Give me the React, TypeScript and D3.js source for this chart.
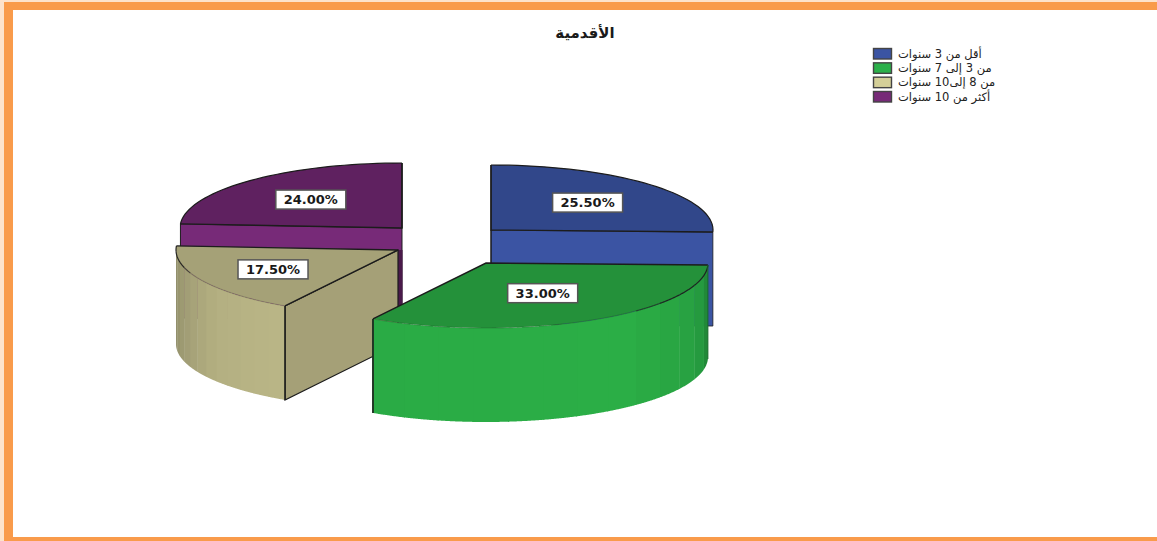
import React from "react";
import * as d3 from "d3";

const categories = ["أقل من 3 سنوات", "من 3 إلى 7 سنوات", "من 8 إلى10 سنوات", "أكثر من 10 سنوات"];
const shares = [25.5, 33.0, 17.5, 24.0];
const title = "الأقدمية";

const WIDTH = 1157;
const HEIGHT = 541;

// Exploded-pie layout: each wedge has its own apex; all share the ellipse and extrusion.
const apexX = [491, 486, 398, 402];
const apexY = [230, 263, 250, 228];
const RX = 222;
const RY = 65;
const DEPTH = 94;
const labelFraction = [0.606, 0.53, 0.637, 0.6];

const topFill = ["#31478a", "#24913a", "#a5a177", "#5f2160"];
const cutFill = ["#3b54a3", "#24913a", "#a5a077", "#772a78"];
const swatchFill = ["#3b54a3", "#2bb04a", "#d4cf98", "#772a78"];
const INK = "#1c1c1c";

// Back-to-front painting order (purple, blue, tan, green).
const paintOrder = [3, 0, 2, 1];

const wedges = d3.pie<number>().sort(null)(shares);

const rimX = (i: number, a: number) => apexX[i] + RX * Math.sin(a);
const rimY = (i: number, a: number) => apexY[i] - RY * Math.cos(a);
const toPath = d3.line<[number, number]>();

function sampleArc(i: number, a0: number, a1: number): [number, number][] {
  return d3.range(0, 41).map((k) => {
    const a = a0 + ((a1 - a0) * k) / 40;
    return [rimX(i, a), rimY(i, a)] as [number, number];
  });
}

function band(i: number, a0: number, a1: number) {
  const upper = sampleArc(i, a0, a1);
  const lower = upper.map(([x, y]) => [x, y + DEPTH] as [number, number]).reverse();
  return toPath([...upper, ...lower]) + "Z";
}

// Stepped shading along the curved walls of the two front wedges.
const greenShade = d3
  .scaleLinear<string>()
  .domain([wedges[1].startAngle, 1.9, 2.5, wedges[1].endAngle])
  .range(["#1f8035", "#27a041", "#2bae46", "#2aab45"]);
const tanShade = d3
  .scaleLinear<string>()
  .domain([wedges[2].startAngle, 4.1, wedges[2].endAngle])
  .range(["#bab686", "#b3af81", "#8c8967"]);
const edgeFade = d3.scaleLinear().domain([0, 0.28, 0.42, 1]).range([0.95, 0.9, 0.18, 0.18]).clamp(true);

const legendRow = d3.scaleLinear().domain([0, 3]).range([48, 91]);

function Wedge({ i }: { i: number }) {
  const { startAngle: a0, endAngle: a1 } = wedges[i];
  const cx = apexX[i];
  const cy = apexY[i];
  const startPt: [number, number] = [rimX(i, a0), rimY(i, a0)];
  const endPt: [number, number] = [rimX(i, a1), rimY(i, a1)];
  const top = toPath([[cx, cy], ...sampleArc(i, a0, a1)]) + "Z";
  const curved = i === 1 || i === 2;
  const shade = i === 1 ? greenShade : tanShade;
  const steps = d3.range(0, 13).map((k) => a0 + ((a1 - a0) * k) / 13);
  const stepSize = (a1 - a0) / 13;

  return (
    <g>
      {i === 0 && (
        <path
          d={toPath([[cx, cy], endPt, [endPt[0], endPt[1] + DEPTH], [cx, cy + DEPTH]]) + "Z"}
          fill={cutFill[0]}
          stroke={INK}
          strokeWidth={0.8}
        />
      )}
      {i === 3 && (
        <>
          <path
            d={toPath([[cx, cy], startPt, [startPt[0], startPt[1] + DEPTH], [cx, cy + DEPTH]]) + "Z"}
            fill={cutFill[3]}
            stroke={INK}
            strokeWidth={1}
          />
          <line
            x1={cx - 2}
            x2={cx - 2}
            y1={apexY[2]}
            y2={cy + DEPTH}
            stroke="#4a1a4b"
            strokeWidth={5}
          />
        </>
      )}
      {i === 2 && (
        <path
          d={toPath([[cx, cy], startPt, [startPt[0], startPt[1] + DEPTH], [cx, cy + DEPTH]]) + "Z"}
          fill={cutFill[2]}
          stroke={INK}
          strokeWidth={1.2}
        />
      )}
      {curved &&
        steps.map((a) => (
          <path
            key={a}
            d={band(i, a, a + stepSize + 0.004)}
            fill={shade(a + stepSize / 2)}
          />
        ))}
      <path d={top} fill={topFill[i]} />
      {/* rim drawn piecewise so the front edge can fade out along the curve */}
      {curved ? (
        steps.map((a, k) => {
          const t = i === 1 ? k / 12 : 1 - k / 12;
          return (
            <path
              key={a}
              d={toPath(sampleArc(i, a, a + stepSize)) ?? ""}
              fill="none"
              stroke={INK}
              strokeOpacity={edgeFade(t)}
              strokeWidth={1.2}
            />
          );
        })
      ) : (
        <path d={toPath(sampleArc(i, a0, a1)) ?? ""} fill="none" stroke={INK} strokeWidth={1.2} />
      )}
      <path
        d={toPath([startPt, [cx, cy], endPt]) ?? ""}
        fill="none"
        stroke={INK}
        strokeWidth={1.4}
      />
      {i === 1 && (
        <line x1={startPt[0] + 0} x2={startPt[0]} y1={startPt[1]} y2={startPt[1] + DEPTH} stroke="#176a2a" strokeWidth={1} />
      )}
      {i === 1 && (
        <line x1={endPt[0]} x2={endPt[0]} y1={endPt[1]} y2={endPt[1] + DEPTH} stroke={INK} strokeWidth={1.6} />
      )}
      {i === 2 && (
        <line x1={startPt[0]} x2={startPt[0]} y1={startPt[1]} y2={startPt[1] + DEPTH} stroke={INK} strokeWidth={1.6} />
      )}
      {i === 3 && <line x1={cx} x2={cx} y1={rimY(i, a1)} y2={cy} stroke={INK} strokeWidth={1.4} />}
      {i === 0 && <line x1={cx} x2={cx} y1={rimY(i, a0)} y2={cy + DEPTH} stroke={INK} strokeWidth={1.2} />}
    </g>
  );
}

function ValueLabel({ i }: { i: number }) {
  const mid = (wedges[i].startAngle + wedges[i].endAngle) / 2;
  const x = apexX[i] + labelFraction[i] * RX * Math.sin(mid);
  const y = apexY[i] - labelFraction[i] * RY * Math.cos(mid);
  return (
    <g transform={`translate(${x},${y})`}>
      <rect x={-35} y={-9.5} width={70} height={19} fill="#fff" stroke="#555" strokeWidth={1.5} />
      <text
        textAnchor="middle"
        y={4.8}
        fontFamily="'DejaVu Sans', sans-serif"
        fontWeight={700}
        fontSize={13}
        fill="#1a1a1a"
      >
        {shares[i].toFixed(2)}%
      </text>
    </g>
  );
}

export default function App() {
  return (
    <svg
      width={WIDTH}
      height={HEIGHT}
      viewBox={`0 0 ${WIDTH} ${HEIGHT}`}
      style={{ position: "absolute", left: 0, top: 0, background: "#fff" }}
    >
      <rect x={0} y={0} width={WIDTH} height={10} fill="#f99b4b" />
      <rect x={4} y={0} width={9} height={HEIGHT} fill="#f99b4b" />
      <rect x={0} y={537} width={WIDTH} height={4} fill="#f99b4b" />
      <rect x={0} y={0} width={4} height={HEIGHT} fill="#fde3cc" />
      <rect x={0} y={0} width={WIDTH} height={2} fill="#fde3cc" />

      <text
        x={585}
        y={38}
        textAnchor="middle"
        direction="rtl"
        fontFamily="'DejaVu Sans', sans-serif"
        fontWeight={700}
        fontSize={15}
        fill="#1a1a1a"
      >
        {title}
      </text>

      {paintOrder.map((i) => (
        <Wedge key={i} i={i} />
      ))}
      {paintOrder.map((i) => (
        <ValueLabel key={i} i={i} />
      ))}

      {categories.map((c, i) => (
        <g key={c} transform={`translate(873,${legendRow(i)})`}>
          <rect x={0.5} y={0.5} width={18} height={10.5} fill={swatchFill[i]} stroke="#444" strokeWidth={1.4} />
          <text
            x={25}
            y={9.5}
            direction="rtl"
            textAnchor="end"
            fontFamily="'DejaVu Sans', sans-serif"
            fontSize={11.5}
            fill="#222"
          >
            {c}
          </text>
        </g>
      ))}
    </svg>
  );
}
